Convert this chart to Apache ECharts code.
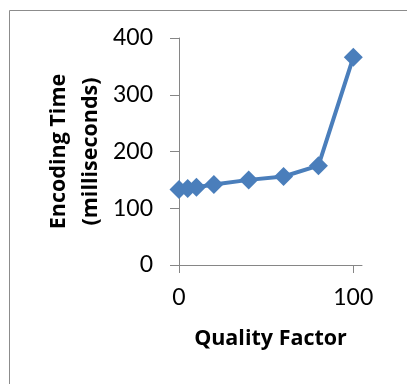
<!DOCTYPE html>
<html>
<head>
<meta charset="utf-8">
<script src="https://cdn.jsdelivr.net/npm/echarts@6/dist/echarts.min.js"></script>
<style>html,body{margin:0;padding:0;background:#fff;}#c{width:407px;height:384px;}</style>
</head>
<body>
<div id="c"></div>
<script>
const qualityFactor = [0, 5, 10, 20, 40, 60, 80, 100];
const encodingTime = [133, 135, 137, 142, 150, 156, 175, 366];
const xTicks = [0, 100];
const yTicks = [0, 100, 200, 300, 400];

const chart = echarts.init(document.getElementById('c'), null, {renderer: 'canvas'});
const font = 'Lato, "Open Sans", sans-serif';
const titleFont = '"Open Sans", Lato, sans-serif';
chart.setOption({
  animation: false,
  backgroundColor: '#fff',
  graphic: [{
    type: 'rect', left: 7, top: 8,
    shape: {width: 420, height: 400},
    style: {fill: 'none', stroke: '#8c8c8c', lineWidth: 1}
  }],
  grid: {left: 179, top: 38, right: 45, bottom: 119, containLabel: false},
  xAxis: {
    type: 'value', min: 0, max: 105, interval: 100,
    name: 'Quality Factor', nameLocation: 'middle', nameGap: 63,
    nameTextStyle: {fontFamily: titleFont, fontWeight: 'bold', fontSize: 21.5, color: '#000'},
    axisLine: {show: true, onZero: false, lineStyle: {color: '#868686', width: 1}},
    axisTick: {show: true, length: 8, customValues: xTicks, lineStyle: {color: '#868686'}},
    axisLabel: {customValues: xTicks, margin: 21, fontFamily: font, fontSize: 23, color: '#000'},
    splitLine: {show: false}
  },
  yAxis: {
    type: 'value', min: 0, max: 400, interval: 100,
    name: 'Encoding Time\n(milliseconds)', nameLocation: 'middle', nameGap: 72,
    nameTextStyle: {fontFamily: titleFont, fontWeight: 'bold', fontSize: 21.5, color: '#000', lineHeight: 32},
    axisLine: {show: true, lineStyle: {color: '#868686', width: 1}},
    axisTick: {show: true, length: 9, customValues: yTicks, lineStyle: {color: '#868686'}},
    axisLabel: {customValues: yTicks, margin: 26, fontFamily: font, fontSize: 23, color: '#000'},
    splitLine: {show: false}
  },
  series: [{
    type: 'line',
    data: qualityFactor.map((x, i) => [x, encodingTime[i]]),
    lineStyle: {color: '#4a7ebb', width: 4},
    itemStyle: {color: '#4a7ebb'},
    symbol: 'diamond', symbolSize: 19, showSymbol: true
  }]
});
</script>
</body>
</html>
